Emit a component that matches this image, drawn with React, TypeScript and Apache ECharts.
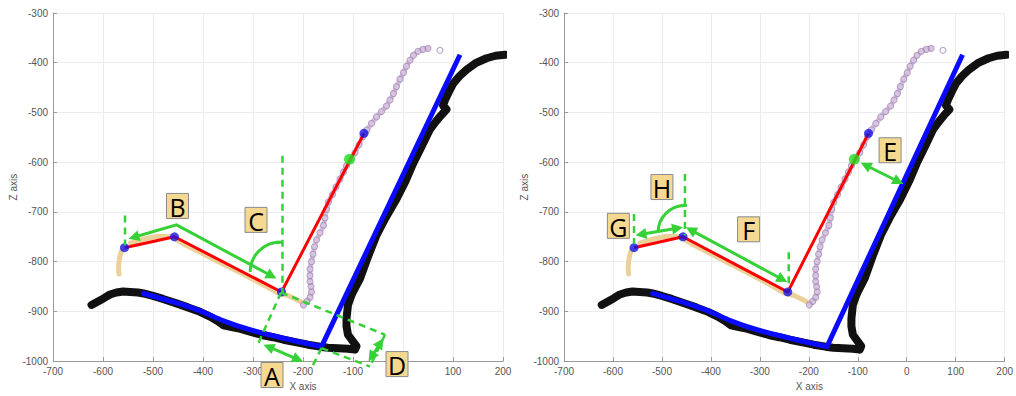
import React, { useEffect, useRef } from 'react';
import * as echarts from 'echarts';

type P = [number, number];

// ---------- axes ----------
const xMin = -700, xMax = 200, xStep = 100;
const zMin = -1000, zMax = -300, zStep = 100;

// ---------- measured data (same in both panels) ----------
const blackCurve: P[] = [
  [-623, -887], [-612, -881], [-599, -874], [-586, -866], [-573, -862], [-560, -860], [-546, -861],
  [-530, -862], [-519, -864], [-500, -869], [-480, -875], [-453, -884], [-430, -892], [-406, -901],
  [-385, -911], [-370, -920], [-359, -928], [-345, -931], [-330, -934], [-306, -941], [-280, -948],
  [-260, -952], [-239, -957], [-210, -963], [-190, -967], [-166, -971], [-150, -973], [-130, -974],
  [-110, -975], [-96, -977], [-93, -970], [-102, -958], [-110, -947], [-113, -930], [-113, -914],
  [-110, -887], [-104, -870], [-100, -861], [-86, -834], [-70, -790], [-53, -747], [-35, -712],
  [-13, -674], [5, -638], [21, -601], [38, -567], [54, -534], [66, -518], [76, -506], [87, -494],
  [80, -486], [84, -475], [93, -456], [101, -441], [113, -427], [127, -414], [145, -401], [167, -391],
  [185, -386], [204, -384]
];
const blueLine1: P[] = [[-519, -864], [-453, -883], [-406, -899], [-359, -919], [-306, -937], [-239, -954], [-163, -971]];
const blueLine2: P[] = [[-163, -971], [114, -384]];
const purpleTrail: P[] = [
  [-199, -887], [-192, -880], [-186, -872], [-183, -861], [-184, -850], [-186, -840], [-186, -828],
  [-186, -815], [-183, -800], [-180, -785], [-177, -770], [-173, -756], [-166, -742], [-159, -727],
  [-156, -712], [-153, -695], [-149, -680], [-141, -665], [-134, -650], [-126, -634], [-119, -620],
  [-113, -607], [-104, -593], [-96, -581], [-88, -565], [-80, -548], [-72, -535], [-63, -522],
  [-53, -509], [-43, -498], [-33, -487], [-26, -475], [-19, -462], [-13, -448], [-6, -433], [1, -420],
  [7, -407], [14, -395], [21, -385], [30, -377], [40, -373], [50, -371]
];
const purpleStray: P[] = [[74, -375]];
const tanTrailLeft: P[] = [[-563, -778], [-566, -788], [-568, -800], [-569, -812], [-568, -825]];
const tanTrail: P[] = [
  [-545, -763], [-520, -755], [-490, -749], [-462, -750], [-440, -764], [-400, -784], [-360, -805],
  [-320, -825], [-280, -846], [-250, -863], [-230, -868], [-215, -875], [-200, -883]
];
const redChain: P[] = [[-557, -772], [-457, -750], [-243, -861], [-78, -542]];
const jointPoints: P[] = [[-557, -772], [-457, -750], [-243, -861], [-78, -542]];
const greenPoint: P[] = [[-107, -594]];

// ---------- annotations, left panel ----------
const leftDashed: P[][] = [
  [[-556, -707], [-556, -767]],
  [[-241, -587], [-241, -862]],
  [[-244, -862], [-291, -968]],
  [[-244, -862], [-36, -947]],
  [[-36, -947], [-66, -1011]],
  [[-163, -974], [-66, -1011]],
  [[-163, -974], [-183, -1014]]
];
const leftDoubleArrows: P[][] = [
  [[-279, -967], [-200, -1001]],
  [[-39, -954], [-69, -1001]]
];
const leftBentArrow: P[] = [[-549, -754], [-453, -726], [-253, -834]];
const leftArc = { center: [-246, -821] as P, radius: 60 };
const leftLabels: { t: string; at: P }[] = [
  { t: 'A', at: [-262, -1028] },
  { t: 'B', at: [-451, -688] },
  { t: 'C', at: [-294, -716] },
  { t: 'D', at: [-12, -1006] }
];
// x tick hidden under the D box in the left panel
const leftHiddenXTicks = [0];

// ---------- annotations, right panel ----------
const rightDashed: P[][] = [
  [[-557, -704], [-557, -764]],
  [[-453, -624], [-453, -747]],
  [[-241, -781], [-241, -854]]
];
const rightDoubleArrows: P[][] = [
  [[-94, -601], [-7, -644]],
  [[-451, -731], [-244, -841]],
  [[-554, -747], [-457, -731]]
];
const rightArc = { center: [-453, -741] as P, radius: 54 };
const rightLabels: { t: string; at: P }[] = [
  { t: 'E', at: [-34, -576] },
  { t: 'F', at: [-323, -735] },
  { t: 'G', at: [-589, -728] },
  { t: 'H', at: [-500, -650] }
];

const GREEN = '#36d136';
const PURPLE = '#a98cb8';

function dataSeries(g: number): any[] {
  const base = { xAxisIndex: g, yAxisIndex: g, animation: false, silent: true };
  return [
    { ...base, type: 'line', data: blackCurve, symbol: 'none', z: 2,
      lineStyle: { color: '#111', width: 8, cap: 'round', join: 'round' } },
    { ...base, type: 'line', data: blueLine1, symbol: 'none', z: 3, smooth: 0.3,
      lineStyle: { color: '#0a0aff', width: 5, cap: 'round' } },
    { ...base, type: 'line', data: blueLine2, symbol: 'none', z: 3,
      lineStyle: { color: '#0a0aff', width: 5 } },
    { ...base, type: 'line', data: tanTrail, symbol: 'none', z: 4,
      lineStyle: { color: '#ebd09a', width: 5, cap: 'round' } },
    { ...base, type: 'line', data: tanTrailLeft, symbol: 'none', z: 4,
      lineStyle: { color: '#ebd09a', width: 5, cap: 'round' } },
    { ...base, type: 'line', data: purpleTrail, z: 4, symbol: 'none',
      lineStyle: { color: '#d6c4e0', width: 5, cap: 'round', join: 'round' } },
    { ...base, type: 'scatter', data: purpleTrail, z: 5, symbol: 'circle', symbolSize: 6,
      itemStyle: { color: 'rgba(255,255,255,0)', borderColor: PURPLE, borderWidth: 1.1 } },
    { ...base, type: 'scatter', data: purpleStray, z: 5, symbol: 'circle', symbolSize: 6,
      itemStyle: { color: 'rgba(255,255,255,0)', borderColor: PURPLE, borderWidth: 1.1 } },
    { ...base, type: 'line', data: redChain, symbol: 'none', z: 6,
      lineStyle: { color: '#ff0000', width: 3 } },
    { ...base, type: 'scatter', data: jointPoints, z: 7, symbolSize: 9,
      itemStyle: { color: '#1414e6' } },
    { ...base, type: 'scatter', data: greenPoint, z: 7, symbolSize: 11,
      itemStyle: { color: '#22e022' } }
  ];
}

function headOf(tip: number[], from: number[]) {
  const dx = tip[0] - from[0], dy = tip[1] - from[1];
  const len = Math.hypot(dx, dy) || 1;
  const ux = dx / len, uy = dy / len;
  const L = 11, W = 5.5;
  const bx = tip[0] - ux * L, by = tip[1] - uy * L;
  return {
    poly: [[tip[0], tip[1]], [bx - uy * W, by + ux * W], [bx + uy * W, by - ux * W]],
    base: [bx + ux * 2, by + uy * 2]
  };
}

function annotationSeries(
  g: number,
  dashed: P[][],
  doubles: P[][],
  bent: P[] | null,
  arc: { center: P; radius: number },
  labels: { t: string; at: P }[]
): any {
  return {
    type: 'custom', xAxisIndex: g, yAxisIndex: g, clip: false, z: 20, silent: true,
    data: [[xMin, zMin]],
    renderItem: (_p: any, api: any) => {
      const c = (p: P) => api.coord(p);
      const children: any[] = [];
      dashed.forEach((seg) => {
        children.push({
          type: 'polyline', shape: { points: seg.map(c) },
          style: { stroke: GREEN, lineWidth: 2.5, lineDash: [7, 5], fill: null }
        });
      });
      const arrowLine = (pts: number[][]) => {
        const n = pts.length;
        const h0 = headOf(pts[0], pts[1]);
        const h1 = headOf(pts[n - 1], pts[n - 2]);
        const shaft = [h0.base, ...pts.slice(1, n - 1), h1.base];
        children.push({ type: 'polyline', shape: { points: shaft },
          style: { stroke: GREEN, lineWidth: 3, fill: null } });
        children.push({ type: 'polygon', shape: { points: h0.poly }, style: { fill: GREEN } });
        children.push({ type: 'polygon', shape: { points: h1.poly }, style: { fill: GREEN } });
      };
      doubles.forEach((seg) => arrowLine(seg.map(c)));
      if (bent) arrowLine(bent.map(c));
      const ctr = c(arc.center);
      const top = c([arc.center[0], arc.center[1] + arc.radius]);
      const r = ctr[1] - top[1];
      children.push({
        type: 'arc', shape: { cx: ctr[0], cy: ctr[1], r, startAngle: Math.PI, endAngle: Math.PI * 1.5, clockwise: true },
        style: { stroke: GREEN, lineWidth: 3, fill: null }
      });
      children.push({
        type: 'line', shape: { x1: ctr[0] - 4, y1: ctr[1] - r, x2: ctr[0] + 2, y2: ctr[1] - r },
        style: { stroke: GREEN, lineWidth: 3 }
      });
      labels.forEach((lb) => {
        const p = c(lb.at);
        children.push({
          type: 'rect', shape: { x: p[0] - 11, y: p[1] - 12.5, width: 22, height: 25 },
          style: { fill: '#f6d990', stroke: '#8a8a8a', lineWidth: 1 }
        });
        children.push({
          type: 'text', x: p[0], y: p[1] + 1,
          style: { text: lb.t, fontSize: 25, fontFamily: 'Open Sans, DejaVu Sans, sans-serif',
            fill: '#000', align: 'center', verticalAlign: 'middle', textAlign: 'center', textVerticalAlign: 'middle' }
        });
      });
      return { type: 'group', children };
    }
  };
}

function axisPair(g: number, hiddenX: number[]) {
  const font = 'Liberation Sans, Arial, sans-serif';
  const common = {
    gridIndex: g,
    axisLine: { show: true, onZero: false, lineStyle: { color: '#9a9a9a', width: 1 } },
    axisTick: { show: true, inside: true, length: 4, lineStyle: { color: '#9a9a9a' } },
    splitLine: { show: true, lineStyle: { color: '#ececec', width: 1 } }
  };
  const label = { color: '#555', fontSize: 10, fontFamily: font, margin: 5 };
  const x = {
    ...common, type: 'value', min: xMin, max: xMax, interval: xStep,
    name: 'X axis', nameLocation: 'middle', nameGap: 19,
    nameTextStyle: { color: '#555', fontSize: 10, fontFamily: font, padding: [0, 0, 0, 50] },
    axisLabel: { ...label, formatter: (v: number) => (hiddenX.includes(v) ? '' : String(v)) }
  };
  const y = {
    ...common, type: 'value', min: zMin, max: zMax, interval: zStep,
    name: 'Z axis', nameLocation: 'middle', nameGap: 33, nameRotate: 90,
    nameTextStyle: { color: '#555', fontSize: 10, fontFamily: font },
    axisLabel: { ...label, formatter: (v: number) => String(v) }
  };
  return { x, y };
}

export default function App() {
  const ref = useRef<HTMLDivElement>(null);
  useEffect(() => {
    if (!ref.current) return;
    const chart = echarts.init(ref.current, undefined, { renderer: 'svg' });
    const a0 = axisPair(0, leftHiddenXTicks);
    const a1 = axisPair(1, []);
    chart.setOption({
      animation: false,
      backgroundColor: '#ffffff',
      grid: [
        { left: 53, top: 13, width: 450, height: 350 },
        { left: 564, top: 13, width: 450, height: 350 }
      ],
      xAxis: [a0.x, a1.x],
      yAxis: [a0.y, a1.y],
      series: [
        ...dataSeries(0),
        ...dataSeries(1),
        annotationSeries(0, leftDashed, leftDoubleArrows, leftBentArrow, leftArc, leftLabels),
        annotationSeries(1, rightDashed, rightDoubleArrows, null, rightArc, rightLabels)
      ]
    });
    return () => chart.dispose();
  }, []);
  return (
    <div
      ref={ref}
      style={{ position: 'fixed', left: 0, top: 0, width: 1016, height: 396, background: '#fff' }}
    />
  );
}
